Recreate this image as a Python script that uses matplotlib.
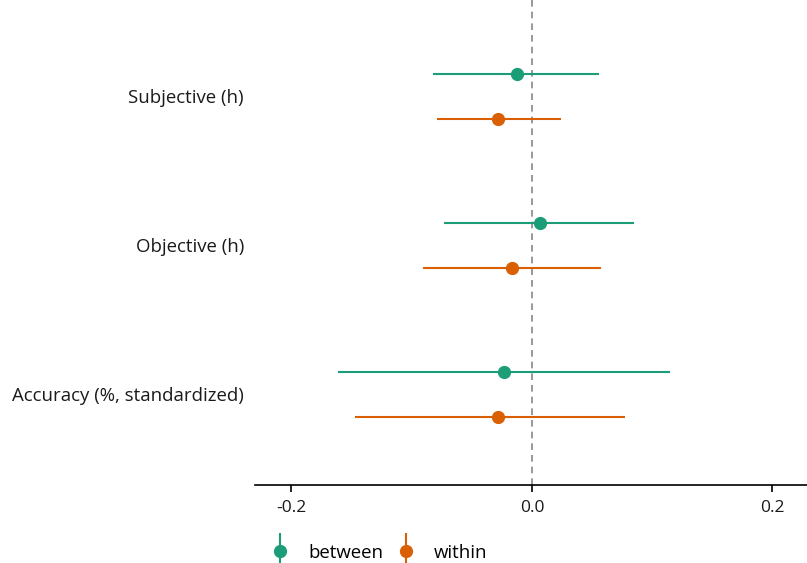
import matplotlib.pyplot as plt
from matplotlib.legend_handler import HandlerErrorbar

# Coefficient estimates with 95% intervals, between- and within-person
outcomes = ["Subjective (h)", "Objective (h)", "Accuracy (%, standardized)"]
between_est = [-0.0125, 0.0067, -0.0233]
between_lo = [-0.0823, -0.0732, -0.161]
between_hi = [0.0557, 0.0848, 0.1148]
within_est = [-0.0283, -0.0166, -0.0283]
within_lo = [-0.079, -0.0906, -0.147]
within_hi = [0.024, 0.0574, 0.0773]

green = "#1B9E77"
orange = "#D95F02"

plt.rcParams["font.family"] = ["Open Sans", "DejaVu Sans"]

fig = plt.figure(figsize=(8.07, 5.63), dpi=100)
ax = fig.add_axes([255 / 807, 78 / 563, 552 / 807, 485 / 563])

ypos = [3, 2, 1]
off = 0.151
for y, e, lo, hi in zip(ypos, between_est, between_lo, between_hi):
    ax.plot([lo, hi], [y + off, y + off], color=green, lw=1.5, solid_capstyle="butt")
    ax.plot(e, y + off, "o", color=green, ms=8.5)
for y, e, lo, hi in zip(ypos, within_est, within_lo, within_hi):
    ax.plot([lo, hi], [y - off, y - off], color=orange, lw=1.5, solid_capstyle="butt")
    ax.plot(e, y - off, "o", color=orange, ms=8.5)

ax.axvline(0, color="#888888", lw=1.2, ls=(0, (4, 3)), zorder=0)

ax.set_xlim(-0.2303, 0.2288)
ax.set_ylim(0.393, 3.644)
ax.set_xticks([-0.2, 0.0, 0.2])
ax.set_xticklabels(["-0.2", "0.0", "0.2"])
ax.set_yticks(ypos)
ax.set_yticklabels(outcomes)
ax.tick_params(axis="y", length=0, pad=8, labelsize=13.4, labelcolor="#1a1a1a")
ax.tick_params(axis="x", length=5, width=1.2, pad=6, labelsize=12.5, labelcolor="#1a1a1a")

for s in ["top", "right", "left"]:
    ax.spines[s].set_visible(False)
ax.spines["bottom"].set_linewidth(1.2)

# vertical error-bar style legend keys
eb_g = ax.errorbar([], [], yerr=[], fmt="o", color=green, ms=8.5, elinewidth=1.5)
eb_o = ax.errorbar([], [], yerr=[], fmt="o", color=orange, ms=8.5, elinewidth=1.5)
fig.legend([eb_g, eb_o], ["between", "within"], loc="center", bbox_to_anchor=(378 / 807, 1 - 553 / 563),
           ncol=2, frameon=False, fontsize=13.4, handlelength=1.2, handletextpad=0.9, columnspacing=0.6,
           handler_map={type(eb_g): HandlerErrorbar(xerr_size=0, yerr_size=1.0)})

fig.savefig("out.png", dpi=100)
